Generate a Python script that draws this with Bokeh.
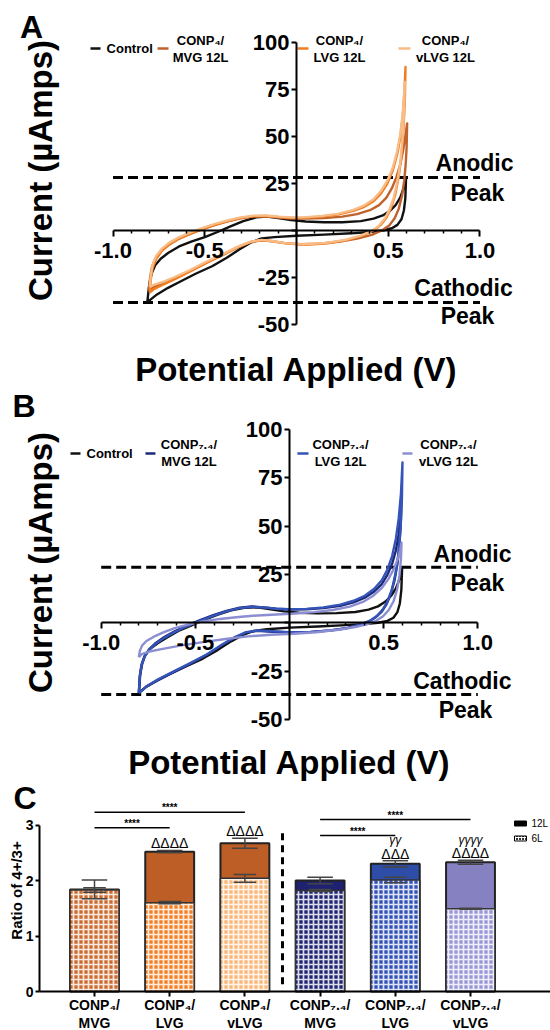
import numpy as np
from bokeh.plotting import figure
from bokeh.models import Range1d, LinearAxis, FixedTicker
from bokeh.layouts import column
from bokeh.core.properties import value
from bokeh.embed import file_html
from bokeh.resources import INLINE

FONT = "Liberation Sans"

# ---------------- Panel A data (CONP4) ----------------
ctrl_a_x = [-0.813, -0.803, -0.79, -0.77, -0.74, -0.70, -0.64, -0.57, -0.50, -0.43, -0.36, -0.29, -0.22, -0.16,
            -0.10, -0.03, 0.05, 0.15, 0.25, 0.35, 0.42, 0.47, 0.51, 0.54, 0.565, 0.58, 0.59, 0.597,
            0.593, 0.585, 0.572, 0.55, 0.52, 0.47, 0.40, 0.30, 0.15, 0.0, -0.12, -0.19, -0.25, -0.31,
            -0.38, -0.46, -0.55, -0.63, -0.70, -0.76, -0.813]
ctrl_a_y = [-38.1, -29.0, -23.0, -18.5, -15.0, -12.0, -8.5, -5.8, -3.5, -0.8, 2.2, 5.0, 7.0, 7.4,
            6.6, 5.6, 4.8, 4.4, 4.4, 5.0, 6.3, 8.0, 10.5, 13.5, 17.5, 21.5, 25.0, 28.0,
            17.0, 10.5, 6.0, 3.0, 1.2, 0.0, -0.8, -1.5, -2.2, -2.8, -3.5, -4.2, -6.5, -10.0,
            -14.5, -19.0, -23.0, -27.0, -30.5, -34.0, -38.1]

mvg_a_x = [-0.805, -0.798, -0.788, -0.77, -0.74, -0.70, -0.65, -0.59, -0.52, -0.45, -0.38, -0.31, -0.24, -0.17,
           -0.10, -0.03, 0.05, 0.15, 0.25, 0.33, 0.40, 0.45, 0.49, 0.52, 0.545, 0.565, 0.58, 0.592, 0.603,
           0.600, 0.595, 0.587, 0.575, 0.557, 0.535, 0.505, 0.465, 0.41, 0.33, 0.23, 0.12, 0.02, -0.07,
           -0.14, -0.20, -0.26, -0.33, -0.41, -0.50, -0.59, -0.67, -0.74, -0.78, -0.805]
mvg_a_y = [-32.0, -25.0, -19.5, -15.0, -11.0, -7.8, -4.8, -2.2, 0.5, 2.8, 4.8, 6.4, 7.5, 7.6,
           6.9, 6.4, 6.3, 6.6, 7.4, 8.7, 10.8, 13.5, 17.5, 22.5, 28.5, 35.0, 42.0, 49.5, 57.0,
           44.0, 35.0, 26.5, 18.5, 11.5, 6.5, 2.6, 0.0, -2.3, -4.3, -6.0, -7.0, -7.3, -6.6,
           -5.6, -5.2, -6.4, -9.3, -13.2, -17.4, -22.0, -25.8, -28.6, -30.2, -32.0]

lvg_a_x = [-0.80, -0.794, -0.784, -0.765, -0.735, -0.695, -0.645, -0.585, -0.515, -0.445, -0.375, -0.305, -0.235,
           -0.165, -0.095, -0.025, 0.05, 0.14, 0.23, 0.31, 0.37, 0.42, 0.46, 0.495, 0.525, 0.55, 0.568, 0.58,
           0.588, 0.594,
           0.590, 0.583, 0.572, 0.557, 0.538, 0.515, 0.49, 0.46, 0.42, 0.36, 0.28, 0.17, 0.05, -0.05,
           -0.13, -0.19, -0.25, -0.32, -0.40, -0.49, -0.58, -0.66, -0.73, -0.775, -0.80]
lvg_a_y = [-33.0, -26.0, -20.0, -15.2, -11.0, -7.6, -4.6, -2.0, 0.7, 3.0, 5.0, 6.6, 7.6,
           7.7, 7.1, 6.7, 6.8, 7.4, 8.6, 10.4, 12.6, 15.6, 19.6, 25.0, 32.0, 41.0, 51.0, 62.0,
           74.0, 87.0,
           68.0, 54.0, 40.0, 28.5, 19.0, 12.0, 6.8, 3.0, 0.0, -2.6, -5.0, -6.8, -7.6, -7.0,
           -5.8, -5.2, -6.2, -9.0, -13.0, -17.2, -21.8, -25.8, -29.0, -31.0, -33.0]

vlvg_a_x = [-0.80, -0.794, -0.784, -0.765, -0.735, -0.695, -0.645, -0.585, -0.515, -0.445, -0.375, -0.305, -0.235,
            -0.165, -0.095, -0.025, 0.05, 0.14, 0.23, 0.31, 0.37, 0.42, 0.46, 0.495, 0.525, 0.548, 0.565, 0.577,
            0.585, 0.59,
            0.586, 0.578, 0.566, 0.55, 0.53, 0.506, 0.48, 0.45, 0.41, 0.35, 0.27, 0.16, 0.04, -0.06,
            -0.13, -0.19, -0.25, -0.32, -0.40, -0.49, -0.58, -0.66, -0.73, -0.775, -0.80]
vlvg_a_y = [-30.0, -23.5, -18.0, -13.6, -9.8, -6.6, -3.8, -1.3, 1.3, 3.5, 5.4, 7.0, 7.9,
            8.0, 7.4, 7.0, 7.1, 7.8, 9.0, 11.0, 13.4, 16.6, 21.0, 26.5, 33.5, 42.0, 51.0, 60.5,
            70.0, 79.0,
            62.0, 49.0, 36.5, 26.0, 17.5, 11.0, 6.2, 2.6, -0.2, -2.7, -4.9, -6.6, -7.3, -6.7,
            -5.6, -5.0, -5.9, -8.6, -12.4, -16.5, -21.0, -24.6, -27.4, -28.8, -30.0]

# ---------------- Panel B data (CONP7.4) ----------------
ctrl_b_x = [-0.80, -0.793, -0.782, -0.765, -0.74, -0.70, -0.65, -0.59, -0.52, -0.45, -0.38, -0.31, -0.24, -0.17,
            -0.10, -0.03, 0.05, 0.15, 0.25, 0.35, 0.42, 0.47, 0.51, 0.54, 0.565, 0.58, 0.59, 0.598,
            0.594, 0.586, 0.573, 0.552, 0.52, 0.47, 0.40, 0.30, 0.15, 0.0, -0.12, -0.19, -0.25, -0.31,
            -0.38, -0.46, -0.55, -0.63, -0.70, -0.76, -0.80]
ctrl_b_y = [-36.4, -27.0, -21.0, -16.5, -13.5, -10.6, -7.6, -4.2, -1.3, 1.6, 4.2, 6.4, 7.8, 8.0,
            7.0, 5.9, 5.2, 4.9, 5.0, 5.6, 6.8, 8.5, 11.0, 14.0, 17.8, 21.5, 24.8, 28.0,
            17.0, 10.0, 5.5, 2.6, 1.0, 0.0, -0.6, -1.2, -1.9, -2.5, -3.3, -4.2, -6.4, -9.6,
            -14.0, -18.5, -22.5, -26.2, -29.6, -33.0, -36.4]

mvg_b_x = [-0.80, -0.795, -0.786, -0.77, -0.745, -0.71, -0.665, -0.61, -0.545, -0.475, -0.405, -0.335, -0.265,
           -0.20, -0.135, -0.07, 0.0, 0.09, 0.18, 0.27, 0.34, 0.40, 0.45, 0.49, 0.52, 0.545, 0.565, 0.58,
           0.59, 0.596,
           0.592, 0.585, 0.574, 0.558, 0.538, 0.515, 0.49, 0.46, 0.425, 0.375, 0.305, 0.215, 0.105, 0.0,
           -0.09, -0.17, -0.23, -0.29, -0.36, -0.44, -0.53, -0.62, -0.70, -0.76, -0.80]
mvg_b_y = [-36.0, -27.5, -21.6, -17.2, -13.6, -10.4, -7.4, -4.4, -1.4, 1.4, 4.0, 6.2, 7.8,
           8.4, 8.0, 7.3, 6.9, 7.0, 7.6, 8.8, 10.6, 13.0, 16.2, 20.0, 24.8, 30.5, 37.5, 46.0,
           57.0, 70.0,
           54.0, 42.0, 31.0, 22.0, 14.8, 9.6, 5.8, 3.0, 0.8, -1.0, -2.8, -4.0, -4.8, -5.0,
           -4.6, -4.2, -5.0, -7.6, -11.6, -16.6, -21.4, -25.8, -29.8, -33.0, -36.0]

lvg_b_x = [-0.80, -0.795, -0.786, -0.77, -0.745, -0.71, -0.665, -0.61, -0.545, -0.475, -0.405, -0.335, -0.265,
           -0.20, -0.135, -0.07, 0.0, 0.09, 0.18, 0.27, 0.34, 0.40, 0.45, 0.49, 0.52, 0.545, 0.565, 0.58,
           0.592, 0.60,
           0.597, 0.59, 0.579, 0.563, 0.543, 0.52, 0.495, 0.465, 0.43, 0.38, 0.31, 0.22, 0.11, 0.0,
           -0.09, -0.17, -0.23, -0.29, -0.36, -0.44, -0.53, -0.62, -0.70, -0.76, -0.80]
lvg_b_y = [-36.4, -28.0, -22.0, -17.6, -14.0, -10.8, -7.8, -4.8, -1.8, 1.0, 3.6, 5.9, 7.6,
           8.3, 7.9, 7.3, 7.0, 7.2, 8.0, 9.4, 11.4, 14.0, 17.6, 22.0, 27.5, 34.5, 43.5, 54.0,
           67.0, 83.0,
           64.0, 49.0, 36.0, 25.5, 17.0, 11.0, 6.8, 3.6, 1.2, -0.8, -2.6, -3.9, -4.7, -4.9,
           -4.4, -4.0, -4.8, -7.4, -11.4, -16.4, -21.0, -25.4, -29.4, -33.0, -36.4]

vlvg_b_x = [-0.80, -0.795, -0.783, -0.76, -0.72, -0.67, -0.61, -0.54, -0.46, -0.37, -0.27, -0.17, -0.07,
            0.03, 0.13, 0.23, 0.32, 0.39, 0.445, 0.49, 0.525, 0.555, 0.575, 0.588, 0.595,
            0.592, 0.584, 0.571, 0.552, 0.527, 0.497, 0.46, 0.41, 0.35, 0.26, 0.14, 0.02, -0.1,
            -0.22, -0.34, -0.46, -0.58, -0.68, -0.75, -0.785, -0.80]
vlvg_b_y = [-17.8, -14.6, -11.8, -9.4, -7.2, -5.0, -2.8, -0.9, 0.7, 2.0, 3.0, 3.8, 4.3,
            4.8, 5.5, 6.6, 8.4, 10.8, 14.0, 18.0, 22.6, 28.0, 33.0, 37.5, 41.5,
            33.0, 24.5, 17.0, 11.0, 6.6, 3.4, 1.0, -0.8, -2.2, -3.6, -4.9, -5.7, -6.2,
            -7.0, -8.4, -10.0, -11.8, -13.6, -15.0, -16.2, -17.8]

peak_a = [28.2, -38.3]          # anodic, cathodic reference lines
peak_b = [28.8, -37.1]
peak_words = ["Anodic", "Peak", "Cathodic", "Peak"]

x_tick_vals = [-1.0, -0.5, 0.0, 0.5, 1.0]
x_tick_labels = ["-1.0", "-0.5", "", "0.5", "1.0"]
x_minor = [-0.9, -0.8, -0.7, -0.6, -0.4, -0.3, -0.2, -0.1, 0.1, 0.2, 0.3, 0.4, 0.6, 0.7, 0.8, 0.9]
y_tick_vals = [-50, -25, 0, 25, 50, 75, 100]
y_tick_labels = ["-50", "-25", "", "25", "50", "75", "100"]

legend_a_line1 = ["Control", "CONP\u2084/", "CONP\u2084/", "CONP\u2084/"]
legend_b_line1 = ["Control", "CONP\u2087.\u2084/", "CONP\u2087.\u2084/", "CONP\u2087.\u2084/"]
legend_line2 = ["", "MVG 12L", "LVG 12L", "vLVG 12L"]

colors_a = ["#111111", "#C0622B", "#F07D22", "#F8BC86"]
colors_b = ["#111111", "#1E2878", "#3554B8", "#8C8ED2"]

# ---------------- Panel C data ----------------
cat_line1 = ["CONP\u2084/", "CONP\u2084/", "CONP\u2084/", "CONP\u2087.\u2084/", "CONP\u2087.\u2084/", "CONP\u2087.\u2084/"]
cat_line2 = ["MVG", "LVG", "vLVG", "MVG", "LVG", "vLVG"]
ratio_12L = [1.84, 2.52, 2.67, 2.00, 2.30, 2.33]
err_12L = [0.17, 0.02, 0.09, 0.06, 0.055, 0.035]
ratio_6L = [1.83, 1.60, 2.04, 1.82, 2.01, 1.49]
err_6L = [0.04, 0.02, 0.07, 0.02, 0.05, 0.01]
colors_12L = ["#BC5E26", "#BC5E26", "#BC5E26", "#1E2270", "#2E4DA8", "#8682C2"]
colors_6L = ["#CC6A2E", "#F27E24", "#F9B677", "#1E2472", "#3050B8", "#9896D6"]
delta_marks = ["", "\u0394\u0394\u0394\u0394", "\u0394\u0394\u0394\u0394", "", "\u0394\u0394\u0394", "\u0394\u0394\u0394\u0394"]
gamma_marks = ["", "", "", "", "\u03b3\u03b3", "\u03b3\u03b3\u03b3\u03b3"]
sig_from = [0, 0, 3, 3]
sig_to = [2, 1, 5, 4]
sig_y = [3.23, 2.95, 3.10, 2.81]
sig_text = ["****", "****", "****", "****"]
legend_c = ["12L", "6L"]
c_ticks = [0, 1, 2, 3]


def txt(p, x, y, text, size, align="center", baseline="middle", style="bold", angle=0.0, color="black"):
    p.text(x=x, y=y, text=text, text_font=value(FONT), text_font_style=style, text_font_size=size,
           text_align=align, text_baseline=baseline, angle=angle, text_color=color)


def make_fig(h, xr, yr):
    p = figure(width=550, height=h, x_range=Range1d(*xr), y_range=Range1d(*yr),
               x_axis_type=None, y_axis_type=None, toolbar_location=None,
               output_backend="svg", min_border=0, outline_line_color=None)
    p.min_border_left = 0
    p.min_border_right = 0
    p.min_border_top = 0
    p.min_border_bottom = 0
    return p


def style_axis(ax, size):
    ax.axis_line_width = 2
    ax.axis_line_color = "black"
    ax.major_tick_line_width = 2
    ax.major_tick_line_color = "black"
    ax.minor_tick_line_width = 1.5
    ax.minor_tick_line_color = "black"
    ax.major_tick_in = 0
    ax.minor_tick_in = 0
    ax.major_label_text_font = FONT
    ax.major_label_text_font_style = "bold"
    ax.major_label_text_font_size = size
    ax.major_label_text_color = "black"


def cv_panel(h, xr, yr, curves, colors, peaks, leg1, letter, pos):
    p = make_fig(h, xr, yr)
    # reference dashed lines
    p.segment(x0=[-1.0, -1.0], y0=peaks, x1=[1.0, 1.0], y1=peaks, line_color="black",
              line_width=3, line_dash="10 5")
    for (cx_, cy_), col in zip(curves, colors):
        p.line(cx_, cy_, line_color=col, line_width=2.4, line_join="round")
    # axes through the origin
    xa = LinearAxis(fixed_location=0, bounds=(-1, 1),
                    ticker=FixedTicker(ticks=x_tick_vals, minor_ticks=x_minor),
                    major_label_overrides=dict(zip(x_tick_vals, x_tick_labels)))
    style_axis(xa, "22px")
    xa.major_tick_out = 6
    xa.minor_tick_out = 3
    xa.major_label_standoff = 6
    p.add_layout(xa, "below")
    ya = LinearAxis(fixed_location=0, bounds=(-50, 100),
                    ticker=FixedTicker(ticks=y_tick_vals),
                    major_label_overrides=dict(zip(y_tick_vals, y_tick_labels)))
    style_axis(ya, "22px")
    ya.major_tick_out = 5
    ya.major_label_standoff = 2
    p.add_layout(ya, "left")
    # peak labels
    txt(p, pos["peak_x"], pos["peak_y"], peak_words, "23px")
    # titles
    txt(p, [pos["ytitle"][0]], [pos["ytitle"][1]], ["Current (\u00b5Amps)"], "33px", angle=np.pi / 2)
    txt(p, [0.0], [pos["xtitle_y"]], ["Potential Applied (V)"], "33px")
    txt(p, [pos["letter"][0]], [pos["letter"][1]], [letter], "32px", align="left")
    # legend
    lx0, lx1, ly = pos["leg_dash_x0"], pos["leg_dash_x1"], pos["leg_dash_y"]
    p.segment(x0=lx0, y0=[ly] * 4, x1=lx1, y1=[ly] * 4, line_color=colors, line_width=2.5)
    txt(p, [pos["leg_ctrl_x"]], [ly], [leg1[0]], "13px", align="left")
    txt(p, pos["leg_text_x"], [pos["leg_l1_y"]] * 3, leg1[1:], "13px")
    txt(p, pos["leg_text_x"], [pos["leg_l2_y"]] * 3, legend_line2[1:], "13px")
    return p


pos_a = dict(peak_x=[0.97, 0.986, 0.91, 0.932], peak_y=[35.9, 19.9, -30.6, -45.7],
             ytitle=(-1.395, 31.9), xtitle_y=-73.9, letter=(-1.5068, 108.5),
             leg_dash_x0=[-1.1226, -0.7575, 0.0054, 0.556], leg_dash_x1=[-1.068, -0.6975, 0.0654, 0.621],
             leg_dash_y=96.8, leg_ctrl_x=-1.035, leg_text_x=[-0.523, 0.234, 0.812],
             leg_l1_y=101.0, leg_l2_y=92.0)
pos_b = dict(peak_x=[0.972, 0.998, 0.918, 0.935], peak_y=[35.6, 20.6, -30.1, -45.1],
             ytitle=(-1.322, 31.2), xtitle_y=-72.2, letter=(-1.471, 111.9),
             leg_dash_x0=[-1.163, -0.765, 0.042, 0.600], leg_dash_x1=[-1.110, -0.712, 0.101, 0.653],
             leg_dash_y=87.6, leg_ctrl_x=-1.078, leg_text_x=[-0.534, 0.271, 0.844],
             leg_l1_y=92.2, leg_l2_y=83.2)

pA = cv_panel(388, (-1.6131, 1.3842), (-84.04, 122.34),
              [(ctrl_a_x, ctrl_a_y), (mvg_a_x, mvg_a_y), (lvg_a_x, lvg_a_y), (vlvg_a_x, vlvg_a_y)],
              colors_a, peak_a, legend_a_line1, "A", pos_a)
pB = cv_panel(393, (-1.5348, 1.3861), (-82.1, 121.21),
              [(ctrl_b_x, ctrl_b_y), (mvg_b_x, mvg_b_y), (lvg_b_x, lvg_b_y), (vlvg_b_x, vlvg_b_y)],
              colors_b, peak_b, legend_b_line1, "B", pos_b)

# ---------------- Panel C ----------------
pC = make_fig(249, (-1.25, 6.0638), (-0.7027, 3.784))
cx = list(range(len(cat_line1)))
bw = 0.65
pC.vbar(x=cx, top=ratio_12L, bottom=0, width=bw, fill_color=colors_12L,
        line_color="#222222", line_width=2)
pC.vbar(x=cx, top=ratio_6L, bottom=0, width=bw, fill_color=colors_6L,
        hatch_pattern="+", hatch_color="white", hatch_scale=5, hatch_weight=1.7, hatch_alpha=0.85,
        line_color="#333333", line_width=1.5)
# error bars
for vals, errs, cap in ((ratio_12L, err_12L, 0.17), (ratio_6L, err_6L, 0.15)):
    lo = [v - e for v, e in zip(vals, errs)]
    hi = [v + e for v, e in zip(vals, errs)]
    pC.segment(x0=cx, y0=lo, x1=cx, y1=hi, line_color="#444444", line_width=1.5)
    pC.segment(x0=[c - cap for c in cx], y0=hi, x1=[c + cap for c in cx], y1=hi,
               line_color="#444444", line_width=1.5)
    pC.segment(x0=[c - cap for c in cx], y0=lo, x1=[c + cap for c in cx], y1=lo,
               line_color="#444444", line_width=1.5)

# separator between the two groups
sep_x = (cx[2] + cx[3]) / 2
pC.segment(x0=[sep_x], y0=[0.13], x1=[sep_x], y1=[2.92], line_color="black", line_width=3,
           line_dash="7 5")

# significance brackets
pC.segment(x0=[cx[i] for i in sig_from], y0=sig_y, x1=[cx[i] for i in sig_to], y1=sig_y,
           line_color="black", line_width=1.5)
txt(pC, [(cx[a] + cx[b]) / 2 for a, b in zip(sig_from, sig_to)], [y + 0.08 for y in sig_y],
    sig_text, "10px")

# delta / gamma marks
d_mid = [v + e + 0.13 for v, e in zip(ratio_12L, err_12L)]
txt(pC, cx, d_mid, delta_marks, "14px", style="normal")
txt(pC, cx, [d + 0.24 for d in d_mid], gamma_marks, "12px", style="italic")

# axes
cya = LinearAxis(fixed_location=-0.7314, bounds=(0, 3), ticker=FixedTicker(ticks=c_ticks))
style_axis(cya, "14px")
cya.major_tick_out = 4
cya.major_label_standoff = 2
pC.add_layout(cya, "left")
cxa = LinearAxis(fixed_location=0, bounds=(-0.7314, 6.1), ticker=FixedTicker(ticks=cx),
                 major_label_overrides={c: "" for c in cx})
style_axis(cxa, "1px")
cxa.major_tick_out = 5
pC.add_layout(cxa, "below")

# category labels
txt(pC, cx, [-0.252] * len(cx), cat_line1, "14px")
txt(pC, cx, [-0.559] * len(cx), cat_line2, "14px")

# titles
txt(pC, [-1.035], [1.82], ["Ratio of 4+/3+"], "15px", angle=np.pi / 2)
txt(pC, [-1.077], [3.486], ["C"], "32px", align="left")

# legend
pC.rect(x=[5.665], y=[3.027], width=12, height=5, width_units="screen", height_units="screen",
        fill_color="black", line_color="black")
pC.rect(x=[5.665], y=[2.757], width=12, height=5, width_units="screen", height_units="screen",
        fill_color="#333333", hatch_pattern="+", hatch_color="white", hatch_scale=3, hatch_weight=1,
        line_color="black")
txt(pC, [5.81, 5.81], [3.027, 2.757], legend_c, "10px", align="left", style="normal")

layout = column(pA, pB, pC)
open("out.html", "w").write(file_html(layout, INLINE))
